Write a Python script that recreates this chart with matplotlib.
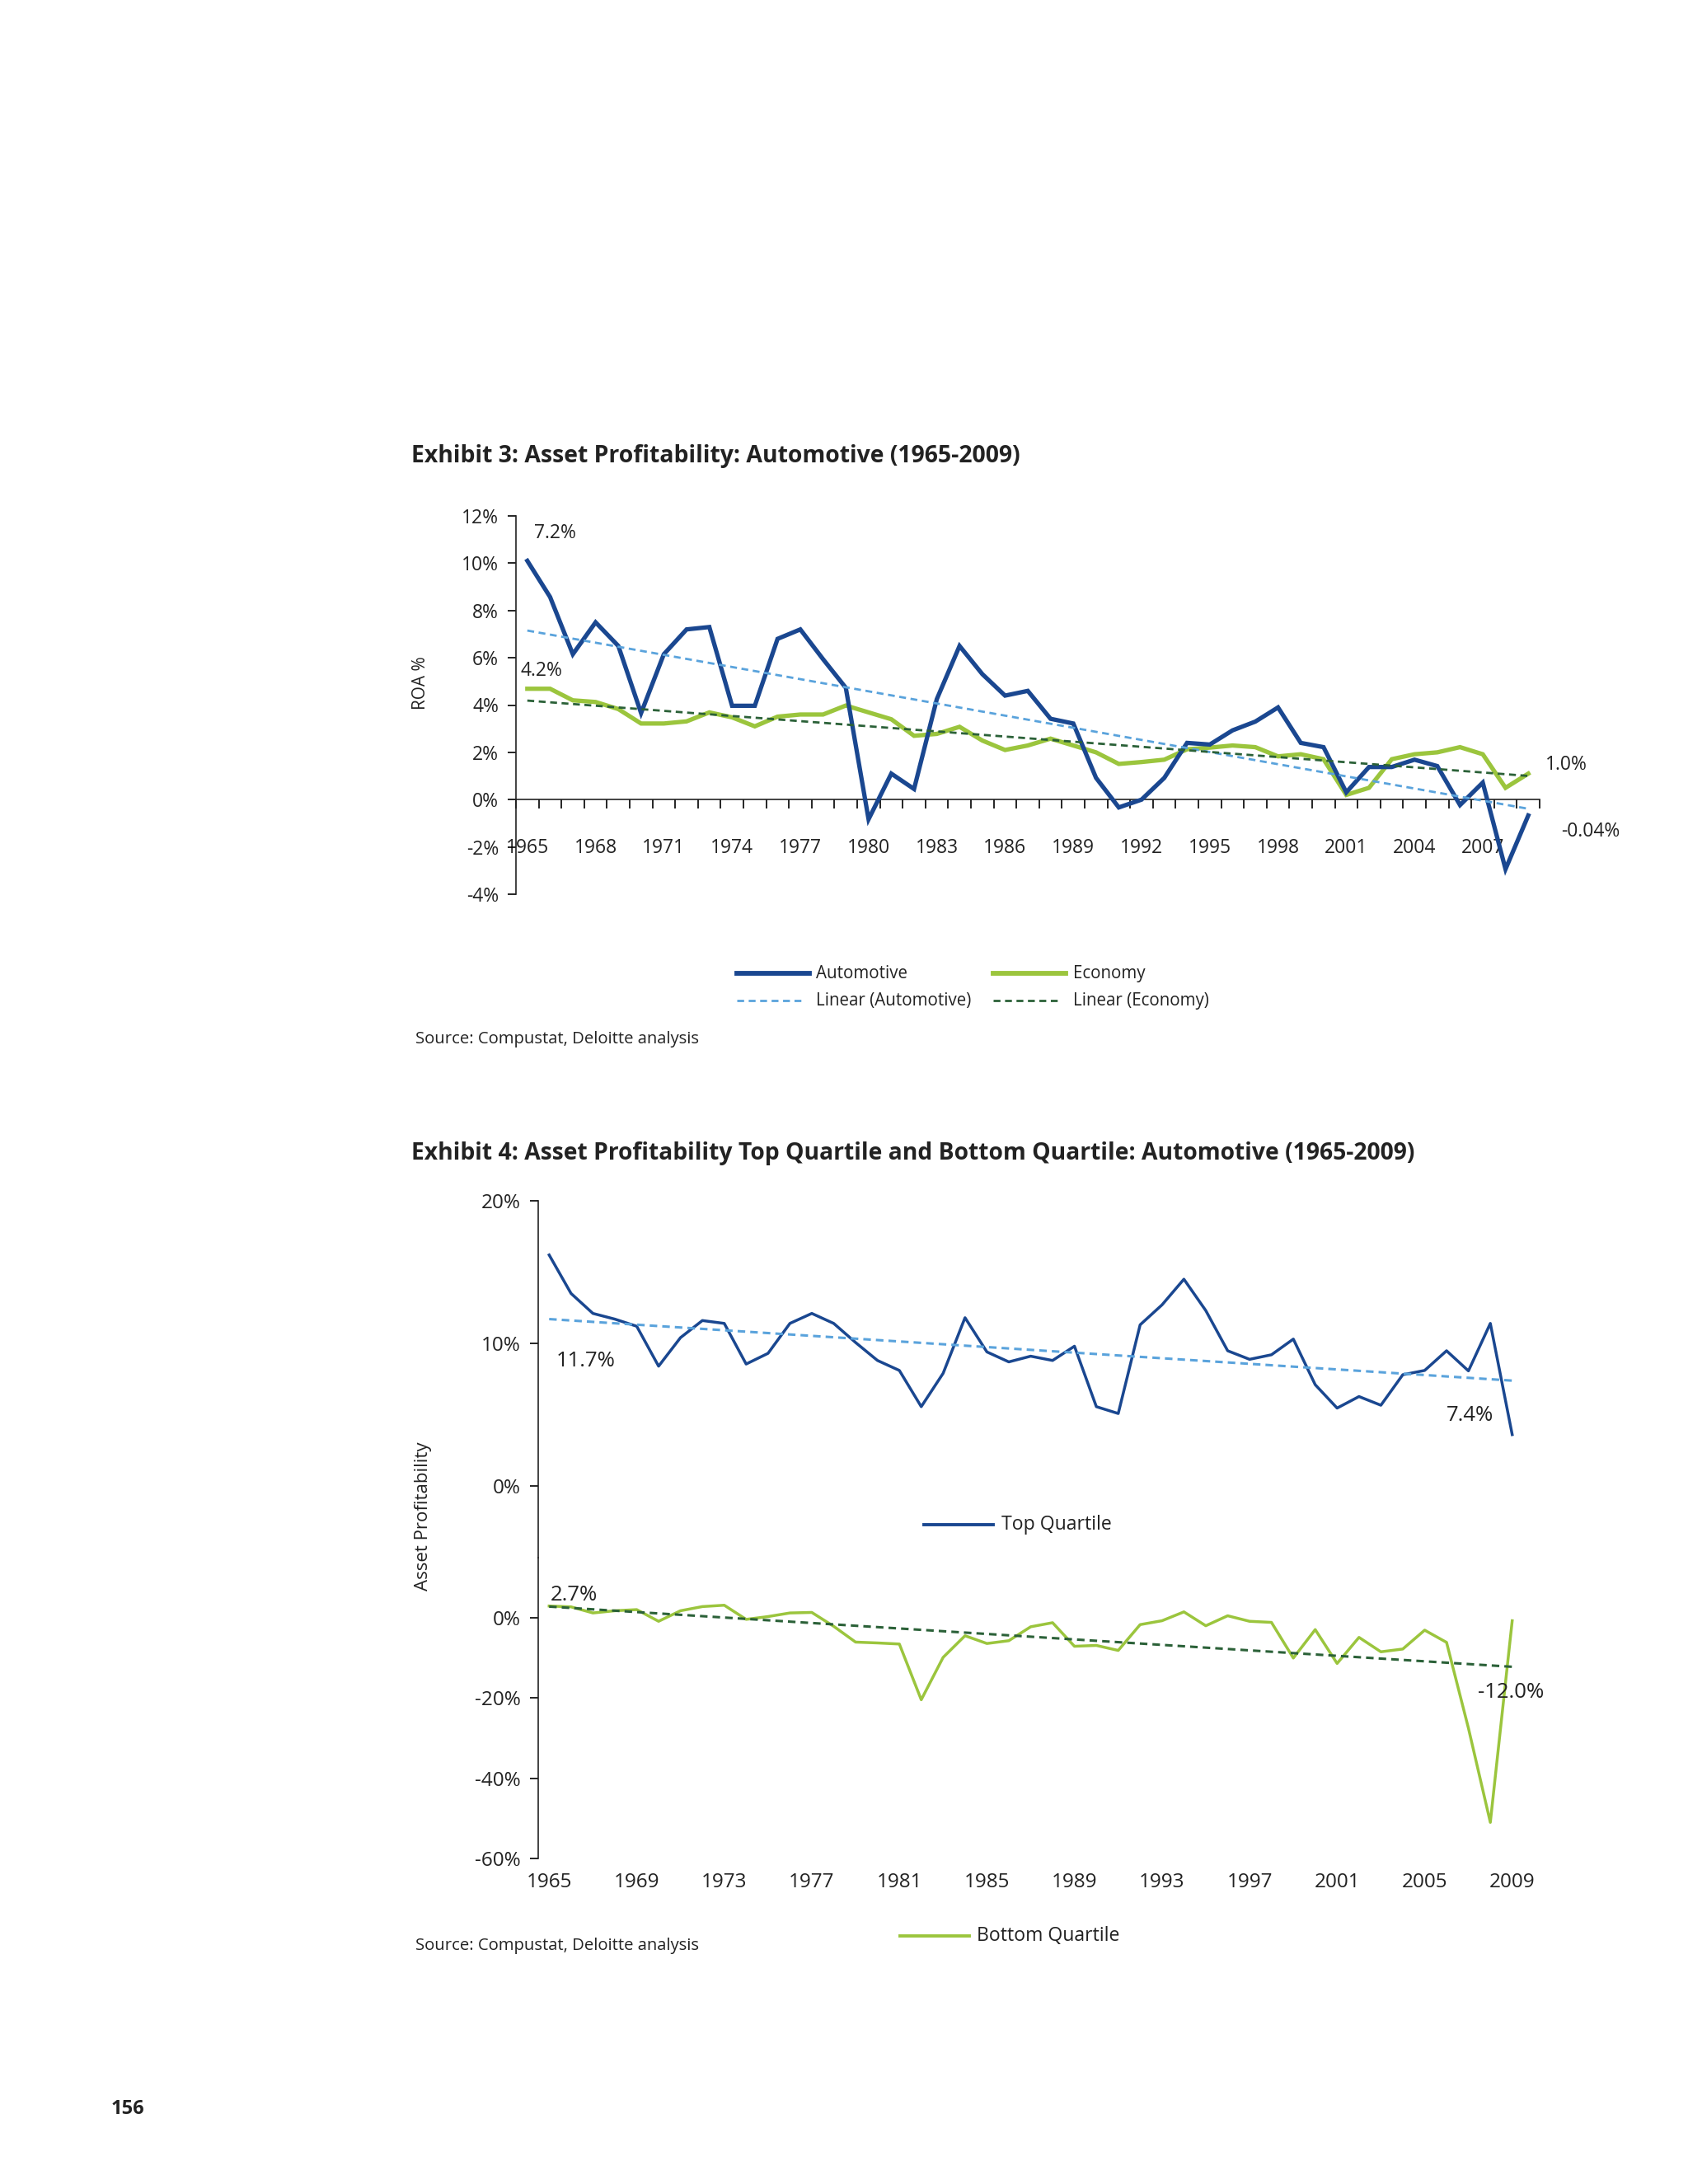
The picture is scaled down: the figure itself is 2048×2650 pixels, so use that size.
import matplotlib
matplotlib.use('Agg')
import matplotlib.pyplot as plt
from matplotlib.lines import Line2D
import numpy as np

plt.rcParams['font.family'] = ['Open Sans', 'DejaVu Sans']

# ---- data ----
years = list(range(1965, 2010))

automotive = [10.1, 8.57, 6.15, 7.5, 6.5, 3.66, 6.15, 7.2, 7.3, 3.97,
              3.97, 6.8, 7.2, 5.94, 4.73, -0.83, 1.1, 0.45, 4.25, 6.5,
              5.31, 4.4, 4.6, 3.42, 3.22, 0.92, -0.33, 0.0, 0.92, 2.4,
              2.33, 2.93, 3.3, 3.9, 2.4, 2.22, 0.31, 1.38, 1.38, 1.69,
              1.42, -0.23, 0.72, -2.94, -0.67]
economy = [4.69, 4.69, 4.2, 4.13, 3.83, 3.22, 3.22, 3.31, 3.69, 3.48,
           3.1, 3.51, 3.6, 3.6, 3.98, 3.69, 3.4, 2.7, 2.78, 3.08,
           2.5, 2.1, 2.29, 2.58, 2.29, 2.0, 1.51, 1.59, 1.69, 2.13,
           2.2, 2.29, 2.22, 1.83, 1.92, 1.71, 0.2, 0.5, 1.71, 1.92,
           2.0, 2.22, 1.92, 0.5, 1.1]

top_quartile = [16.2, 13.5, 12.1, 11.7, 11.2, 8.4, 10.4, 11.6, 11.4, 8.55,
                9.3, 11.4, 12.1, 11.4, 10.06, 8.8, 8.1, 5.56, 7.9, 11.8,
                9.4, 8.7, 9.1, 8.8, 9.8, 5.56, 5.08, 11.3, 12.7, 14.5,
                12.3, 9.48, 8.88, 9.2, 10.3, 7.1, 5.46, 6.27, 5.66, 7.8,
                8.1, 9.48, 8.07, 11.4, 3.6]
bottom_quartile = [2.98, 2.77, 1.25, 1.8, 2.08, -0.83, 1.8, 2.84, 3.18, -0.35,
                   0.35, 1.25, 1.38, -2.08, -6.02, -6.23, -6.5, -20.4, -9.83, -4.43,
                   -6.37, -5.67, -2.2, -1.18, -7.06, -6.85, -8.1, -1.66, -0.69, 1.52,
                   -1.94, 0.55, -0.83, -1.1, -10.0, -2.9, -11.35, -4.84, -8.44, -7.75,
                   -3.04, -6.09, -27.5, -51.0, -0.69]

top_yticks = [-4, -2, 0, 2, 4, 6, 8, 10, 12]
top_xlabels = list(range(1965, 2008, 3))
q_upper_yticks = [0, 10, 20]
q_lower_yticks = [-60, -40, -20, 0]
q_xlabels = list(range(1965, 2010, 4))

BLUE = '#1a4790'
GREEN = '#9bc53d'
LBLUE = '#5aa3dc'
DGREEN = '#2b6138'
TXT = '#222222'

W, H = 2048, 2650


def fx(x):
    return x / W


def fy(y):
    return 1 - y / H


def trend(xs, ys):
    k, b = np.polyfit(xs, ys, 1)
    xs = np.array(xs)
    return xs, k * xs + b


def pct(vals):
    return ['%d%%' % v for v in vals]


fig = plt.figure(figsize=(W / 100, H / 100), dpi=100, facecolor='white')

# ================= Exhibit 3 =================
fig.text(fx(499), fy(554), 'Exhibit 3: Asset Profitability: Automotive (1965-2009)',
         fontsize=20.4, fontweight='bold', color=TXT, va='center', ha='left')

ax = fig.add_axes([fx(626), fy(1085), fx(1868) - fx(626), (1085 - 626) / H])
ax.plot(years, economy, color=GREEN, lw=3.8, solid_joinstyle='miter', zorder=3)
ax.plot(years, automotive, color=BLUE, lw=3.8, solid_joinstyle='miter', zorder=4)
tx, ty = trend(years, automotive)
ax.plot(tx, ty, color=LBLUE, lw=2.0, ls=(0, (3, 2)), zorder=5)
tx, ty = trend(years, economy)
ax.plot(tx, ty, color=DGREEN, lw=2.0, ls=(0, (3, 2)), zorder=5)

ax.set_xlim(1964.5, 2009.5)
ax.set_ylim(-4, 12)
for s in ['top', 'right']:
    ax.spines[s].set_visible(False)
ax.spines['bottom'].set_position(('data', 0))
for s in ['left', 'bottom']:
    ax.spines[s].set_linewidth(1.2)
    ax.spines[s].set_color(TXT)
ax.set_yticks(top_yticks)
ax.set_yticklabels(pct(top_yticks), fontsize=16.5, color=TXT)
ax.tick_params(axis='y', direction='out', length=7, width=1.2, pad=8)
ax.set_xticks(np.arange(1964.5, 2010, 1))
ax.set_xticklabels([])
ax.tick_params(axis='x', which='major', direction='out', length=8, width=1.2)
ax.set_xticks(top_xlabels, minor=True)
ax.set_xticklabels([str(y) for y in top_xlabels], minor=True, fontsize=16.5, color=TXT)
ax.tick_params(axis='x', which='minor', length=0, pad=34)
ax.patch.set_alpha(0)

fig.text(fx(511), fy(829), 'ROA %', rotation=90, fontsize=15, color=TXT,
         ha='center', va='center')
fig.text(fx(648), fy(647), '7.2%', fontsize=16.5, color=TXT, va='center')
fig.text(fx(631), fy(814), '4.2%', fontsize=16.5, color=TXT, va='center')
fig.text(fx(1875), fy(928), '1.0%', fontsize=16.5, color=TXT, va='center')
fig.text(fx(1894), fy(1009), '-0.04%', fontsize=16.5, color=TXT, va='center')

# legend
fig.add_artist(Line2D([fx(894), fx(982)], [fy(1181), fy(1181)], color=BLUE, lw=4.2))
fig.text(fx(990), fy(1181), 'Automotive', fontsize=14.8, color=TXT, va='center')
fig.add_artist(Line2D([fx(1205), fx(1293)], [fy(1181), fy(1181)], color=GREEN, lw=4.2))
fig.text(fx(1302), fy(1181), 'Economy', fontsize=14.8, color=TXT, va='center')
fig.add_artist(Line2D([fx(894), fx(975)], [fy(1214), fy(1214)], color=LBLUE, lw=2,
                      ls=(0, (3, 2))))
fig.text(fx(990), fy(1214), 'Linear (Automotive)', fontsize=14.8, color=TXT, va='center')
fig.add_artist(Line2D([fx(1205), fx(1286)], [fy(1214), fy(1214)], color=DGREEN, lw=2,
                      ls=(0, (3, 2))))
fig.text(fx(1302), fy(1214), 'Linear (Economy)', fontsize=14.8, color=TXT, va='center')

fig.text(fx(504), fy(1261), 'Source: Compustat, Deloitte analysis', fontsize=14.6,
         color=TXT, va='center')

# ================= Exhibit 4 =================
fig.text(fx(499), fy(1400),
         'Exhibit 4: Asset Profitability Top Quartile and Bottom Quartile: Automotive (1965-2009)',
         fontsize=20.3, fontweight='bold', color=TXT, va='center', ha='left')

left, right = fx(653), fx(1848)
ax1 = fig.add_axes([left, fy(1890), right - left, (1890 - 1457) / H])
ax2 = fig.add_axes([left, fy(2255), right - left, (2255 - 1890) / H])

ax1.plot(years, top_quartile, color=BLUE, lw=2.5, zorder=3)
tx, ty = trend(years, top_quartile)
ax1.plot(tx, ty, color=LBLUE, lw=2.2, ls=(0, (3, 2)), zorder=4)
ax1.set_ylim(-5.03, 20)
ax1.set_yticks(q_upper_yticks)
ax1.set_yticklabels(pct(q_upper_yticks), fontsize=17.5, color=TXT)

ax2.plot(years, bottom_quartile, color=GREEN, lw=2.5, zorder=3)
tx, ty = trend(years, bottom_quartile)
ax2.plot(tx, ty, color=DGREEN, lw=2.2, ls=(0, (3, 2)), zorder=4)
ax2.set_ylim(-60, 15.05)
ax2.set_yticks(q_lower_yticks)
ax2.set_yticklabels(pct(q_lower_yticks), fontsize=17.5, color=TXT)

for a in (ax1, ax2):
    a.set_xlim(1964.5, 2009.5)
    for s in ['top', 'right', 'bottom']:
        a.spines[s].set_visible(False)
    a.spines['left'].set_linewidth(1.2)
    a.spines['left'].set_color(TXT)
    a.tick_params(axis='y', direction='out', length=7, width=1.2, pad=8)
    a.patch.set_alpha(0)
ax1.set_xticks([])
ax2.set_xticks(q_xlabels)
ax2.set_xticklabels([str(y) for y in q_xlabels], fontsize=17.5, color=TXT)
ax2.tick_params(axis='x', length=0, pad=12)

fig.text(fx(513), fy(1840), 'Asset Profitability', rotation=90, fontsize=16,
         color=TXT, ha='center', va='center')
fig.text(fx(711), fy(1652), '11.7%', fontsize=18.5, color=TXT, ha='center', va='center')
fig.text(fx(1784), fy(1718), '7.4%', fontsize=18.5, color=TXT, ha='center', va='center')
fig.text(fx(696), fy(1935), '2.7%', fontsize=18.5, color=TXT, ha='center', va='center')
fig.text(fx(1833), fy(2053), '-12.0%', fontsize=18.5, color=TXT, ha='center', va='center')

fig.add_artist(Line2D([fx(1121), fx(1205)], [fy(1850), fy(1850)], color=BLUE, lw=2.8))
fig.text(fx(1215), fy(1850), 'Top Quartile', fontsize=16.6, color=TXT, va='center')
fig.add_artist(Line2D([fx(1092), fx(1176)], [fy(2349), fy(2349)], color=GREEN, lw=2.8))
fig.text(fx(1185), fy(2349), 'Bottom Quartile', fontsize=16.6, color=TXT, va='center')

fig.text(fx(504), fy(2361), 'Source: Compustat, Deloitte analysis', fontsize=14.6,
         color=TXT, va='center')

fig.text(fx(135), fy(2559), '156', fontsize=17, fontweight='bold', color=TXT,
         va='center')

fig.savefig('out.png', dpi=100, facecolor='white')
